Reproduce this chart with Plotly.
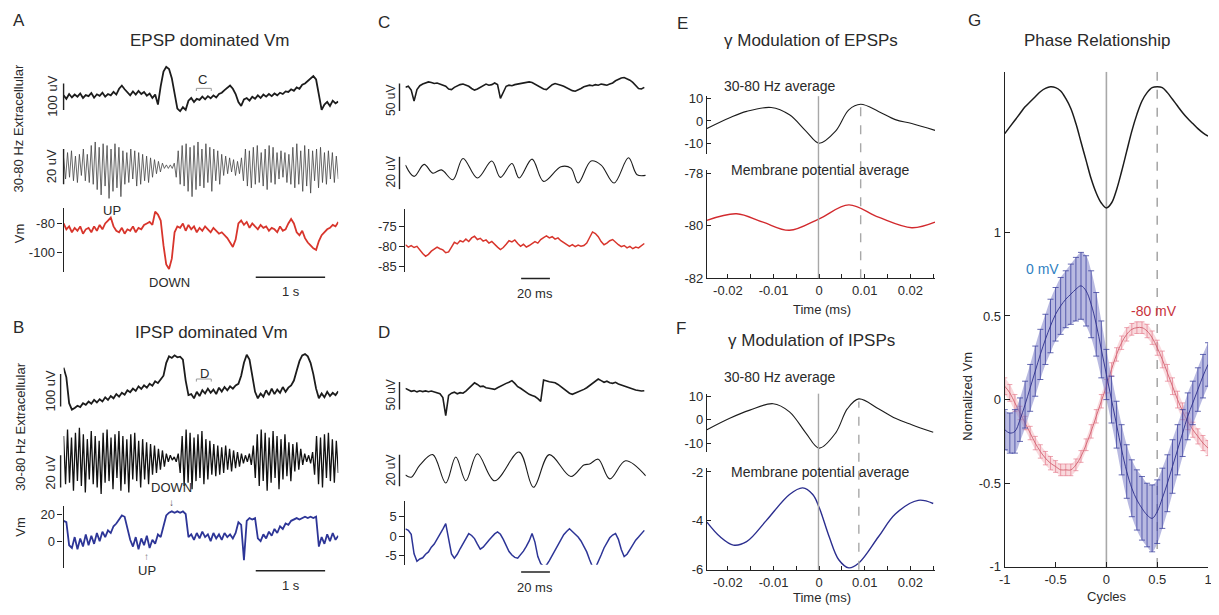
import numpy as np
import plotly.graph_objects as go

# The page body adds an 8 px margin, so the figure is drawn 8 px in from the
# top-left corner: positions below are given in window pixels and converted.
OX, OY = 8, 8
W, H = 1211, 607
FONT = "Liberation Sans, Arial, sans-serif"
TXT = "#2a2a2a"

# ------------------------------------------------------------------ data
# Panel A (EPSP dominated), time 0..3.96 s
a_extra = [5, -8, 10, -3, 8, 0, 12, -5, 6, 2, 14, -4, 9, 3, 15, 0, 10, 5, 18, 8,
           30, 42, 28,
           15, 5, 20, 8, 22, 10, 18, 4, 12, -5, 8,
           -30,
           40, 95, 113, 105, 70, 10,
           -45, -55, -40, -50,
           -15, -5, -20, -8, -12, 0, -10, 2, -6, 5, -3, 10, 15, 25,
           35, 42, 30,
           10, -20, -35,
           -10, -5, -15, 0, -8, 5, -5, 8, 0, 10, 2, 12, 5, 15, 10, 20,
           18, 28, 22, 35, 30, 45, 50, 60,
           70, 78, 65,
           10, -50,
           -30, -20, -35, -15, -25, -18]
a_gamma = [5, -7, 8, -6, 9, -8, 6, -9, 7, -5, 10, -8, 7, -9,
           12, -10, 14, -13, 11, -16, 13, -11, 12, -18, 10, -14, 13, -12, 11, -17, 9, -10,
           8, -9, 10, -7, 9, -11, 8, -10, 7, -8, 6, -9, 5, -6,
           4, -4, 3, -3, 2,
           -1, 1, -1, 1, -1, 2,
           -6, 9, -10, 12, -11, 13, -14, 11, -17, 12, -13, 14, -11, 10, -12, 13, -9, 11, -14, 10, -8, 9, -10, 7,
           -5, 6, -4, 5, -3, 4, -5, 3, -4, 5,
           -8, 10, -11, 9, -12, 11, -10, 12, -9, 8, -11, 10, -13, 12, -9, 11, -10, 8, -7, 9,
           -6, 8, -9, 7, -10, 11, -12, 13, -10, 9, -14, 12, -11, 10, -15, 9, -8, 10, -12, 11,
           -9, 8, -10, 9, -7, 8, -9, 6, -7]
a_vm = [-80, -84, -82, -86, -83, -85, -82, -87, -84, -83, -86, -82, -85, -81, -84,
        -80, -78, -76, -82, -85,
        -86, -83, -87, -84, -85, -82, -86, -83, -84, -81,
        -80, -79, -81,
        -72, -74, -78,
        -95, -108, -111, -104,
        -86, -82,
        -83, -80, -85, -81, -84, -82, -86, -83, -85, -82, -84, -86, -83, -85, -87, -86, -88,
        -90, -93, -96, -91,
        -80, -78,
        -81, -79, -83, -80, -82, -84, -81, -83, -82, -85, -83, -84, -86, -82, -85, -84,
        -80, -77, -80,
        -86, -88, -85,
        -90, -93, -95, -97, -98,
        -92, -88, -86, -84, -83, -81, -82, -79]

# Panel B (IPSP dominated)
b_extra = [70, 40, -40, -60, -55, -48,
           -52, -40, -45, -35, -42, -30, -38, -28, -35, -22, -30, -18, -25, -12, -20,
           -8, -14, 0, -6, 5, -2, 12, 4, 15, 8, 20, 14, 28, 22, 35,
           45, 85, 105, 100, 108, 102, 104, 95, 30, -15,
           -12, -25, -5, -18, 0, -10, 5, -8, 2, -12, 8, -4, 10, 0, 12, 5, 15, 20,
           45, 85, 110, 95, 50, -5, -25,
           -10, -20, 0, -15, 5, -12, 2, -8, 10, -5, 8, 15,
           30, 60, 90, 108, 112, 105, 85, 50, 5, -25,
           -10, -22, -5, -18, -8, -15, -3]
b_gamma = [14, -16, 18, -15, 13, -20, 16, -14, 19, -17, 15, -21, 12, -13, 17, -16, 14, -18, 11, -22,
           16, -15, 18, -14, 13, -19, 15, -12, 17, -20, 14, -16, 12, -21, 15, -13, 16, -14, 11, -18,
           12, -13, 10, -16, 9, -10, 8, -9, 6, -7, 5, -5, 3,
           -2, 2, -1, 1, -2, 3,
           -9, 14, -17, 18, -15, 16, -19, 13, -14, 15, -12, 17, -16, 12, -13, 11,
           -10, 9, -11, 8, -10, 7, -9, 8, -7, 6, -8, 5, -6, 4, -5,
           3, -3, 2, -2, 3, -4,
           8, -12, 15, -17, 18, -14, 16, -20, 13, -15, 17, -12, 14, -19, 12, -13, 15, -11, 10, -14,
           9, -8, 10, -7, 6,
           -4, 3, -2, 2, -3, 4,
           -10, 14, -16, 13, -18, 15, -12, 16, -14, 12, -15, 11, -9]
b_vm = [15, 14, -3,
        -5, 3, -6, 2, -4, 5, -3, 4, -2, 6, 0, 7, 3, 8, 6, 11, 13,
        16, 19, 18, 10, 1,
        -4, 3, -6, 2, -3, 4, -5, 1, -2, 5, 3,
        12, 19, 21, 22, 21, 22, 21, 22, 20, 3,
        5, 1, 6, 2, 7, 3, 5, 0, 6, 2, 5, 1, 6, 3, 5, 2, 6,
        14, 12, -14, 15, 17, 16, 17, 2,
        0, 5, 2, 7, 4, 9, 6, 11, 9, 13, 12,
        15, 16, 17, 16, 17, 18, 17, 18, 17, 18,
        -4,
        3, -2, 5, 0, 6, 1, 4]

# Panels C / D, time 0..166 ms (2 ms steps)
c_extra = [0, 2, -5, -25, -4, 3, 6, 8, 10, 9, 7, 8, 6, 5, 2, -3, -4, 0, 3, 5,
           6, 4, 2, -2, -5, -3, 0, 3, 6, 4, 5, 8, 5, -20, -8, 2, 4, 3, 5, 6,
           7, 8, 9, 10, 9, 6, 3, 0, -3, -4, 0, 5, 7, 6, 4, 2, -1, -4, -6, -7,
           -5, -2, 1, 3, 4, 3, 5, 4, 6, 5, 4, 6, 8, 12, 15, 17, 18, 16, 13, 9,
           4, -2, -3, 0]
c_gamma_t = [0, 6, 13, 19, 25, 33, 40, 50, 60, 66, 74, 79, 88, 96, 108, 115, 120, 129, 136, 145, 155, 161, 167]
c_gamma = [3.4, -3.6, 3.8, -1.6, 0.4, -5.7, 7.5, -4.6, 5.9, -4.2, 4.4, -4.6, 7.1, -6.7, 2.4, 1.5, -7.7, 5.9, 3.4, -7.7, 7.9, -2.6, -3.0]
c_vm = [-79.6, -80.2, -79.8, -80.3, -80.0, -81.0, -81.8, -82.5, -82.0, -81.2, -80.8, -80.2, -80.6, -80.9, -81.6,
        -81.4, -80.2, -79.0, -79.4, -78.6, -78.9, -78.2, -78.8, -77.9, -77.5, -78.3, -78.0, -78.7, -78.4, -79.2,
        -78.8, -79.6, -80.2, -80.8, -80.3, -79.5, -78.6, -78.9, -78.4, -79.3, -80.0, -79.5, -80.2, -79.8, -79.4,
        -78.8, -79.2, -78.3, -77.8, -77.4, -77.9, -77.6, -78.2, -77.9, -78.6, -79.0, -79.4, -80.0, -79.6, -80.1,
        -79.7, -80.0, -79.8, -79.2, -77.8, -76.4, -76.8, -77.6, -78.8, -79.6, -79.2, -78.6, -78.3, -79.0, -79.6,
        -80.1, -79.8, -80.4, -80.0, -80.6, -80.2, -80.4, -79.8, -79.3]
d_extra = [4.8, 2, -0.5, 0.8, -1.5, 0.5, -1.0, 0.2, -1.2, 0, -2, -3, -5, -12, -45, -8, -4, -2, -5, -3,
           -4, 0, 5, 10, 15, 12, 8, 9, 6, 5, 4, 3, 6, 9, 12, 14, 16, 19, 14, 8,
           5, 1, -3, -6, -8, -10, -14, -19, 20, 18, 17, 16, 15, 12, 8, 4, 0, -4, -6, -4,
           -2, 0, 3, 6, 10, 14, 18, 22, 19, 16, 18, 15, 14, 16, 13, 11, 9, 8, 6, 4,
           2, 1, 0, 0.5]
d_gamma_t = [0, 4, 10, 19, 28, 35, 42, 50, 62, 79, 89, 100, 115, 124, 128, 134, 142, 153, 167]
d_gamma = [-3.1, -4.5, 3.1, 9.7, -8.2, 8.2, -6.8, 10.3, -6.8, 11.3, -10.9, 9.7, -4.1, 3.2, 3.8, 6.8, -5.6, 5.8, -3.7]
d_vm = [1.9, 1.5, 0.5, -4.5, -6.4, -5.8, -5.5, -4.6, -4.0, -2.8, -2.0, -0.8, 0.6, 1.8, 3.2, -1.0, -4.5, -5.6, -4.6, -3.2,
        -2.0, -0.5, 0.7, 0.2, -0.6, -2.0, -3.3, -2.8, -1.8, -1.0, -0.2, 0.6, 1.1, 0.5, -0.8, -2.5, -3.9, -4.8, -5.4, -5.6,
        -4.8, -3.8, -2.6, -1.2, 0.7, -1.5, -5.2, -7.0, -7.7, -7.4, -6.2, -4.8, -3.5, -2.0, -0.8, 0.4, 1.2, 1.9, 1.2, 0.5,
        -0.2, -1.2, -2.7, -4.0, -6.0, -7.8, -8.1, -6.6, -4.8, -3.0, -1.5, -0.4, 0.3, 0.7, -0.8, -3.4, -5.2, -4.6, -3.4, -2.2,
        -1.0, -0.2, 0.6, 1.5]

# Panels E / F (time in the plotted units)
e_gamma_t = [-0.0246, -0.0196, -0.0159, -0.0105, -0.0065, -0.0029, 0.0, 0.0036, 0.0065, 0.0091, 0.013, 0.0167, 0.0203, 0.0254]
e_gamma = [-3.3, 1.4, 4.2, 5.9, 2.7, -4.4, -9.7, -4.4, 4.9, 7.3, 4.2, 0.6, -1.1, -4.1]
e_vm_t = [-0.0246, -0.0181, -0.0123, -0.0065, 0.0, 0.0065, 0.013, 0.0203, 0.0254]
e_vm = [-79.79, -79.54, -79.86, -80.17, -79.73, -79.2, -79.67, -80.07, -79.86]
f_gamma_t = [-0.0246, -0.0196, -0.0152, -0.0101, -0.0065, -0.0029, 0.0, 0.0036, 0.0062, 0.0087, 0.013, 0.0167, 0.0203, 0.025]
f_gamma = [-4.1, 0.7, 4.1, 6.8, 3.4, -5.5, -11.8, -5.5, 4.7, 8.8, 4.7, 0.7, -2.0, -5.2]
f_vm_t = [-0.0246, -0.0217, -0.0188, -0.0159, -0.0116, -0.0065, -0.0036, -0.0014, 0.0, 0.0022, 0.0043, 0.0065, 0.0087, 0.013, 0.0167, 0.0217, 0.025]
f_vm = [-4.05, -4.65, -4.99, -4.85, -3.99, -2.92, -2.65, -2.92, -3.45, -4.65, -5.59, -5.92, -5.72, -4.65, -3.72, -3.16, -3.29]
ef_ticks = [-0.02, -0.01, 0, 0.01, 0.02]
ef_ticktext = ["-0.02", "-0.01", "0", "0.01", "0.02"]

# Panel G (phase relationship)
g_cycles = [-1.0, -0.95, -0.9, -0.85, -0.8, -0.75, -0.7, -0.65, -0.6, -0.55, -0.5, -0.45, -0.4, -0.35, -0.3,
            -0.25, -0.2, -0.15, -0.1, -0.05, 0.0, 0.05, 0.1, 0.15, 0.2, 0.25, 0.3, 0.35, 0.4, 0.45, 0.5,
            0.55, 0.6, 0.65, 0.7, 0.75, 0.8, 0.85, 0.9, 0.95, 1.0]
g_gamma = [1.59, 1.63, 1.67, 1.71, 1.75, 1.78, 1.81, 1.84, 1.86, 1.87, 1.865, 1.845, 1.80, 1.74, 1.65,
           1.54, 1.43, 1.32, 1.235, 1.175, 1.146, 1.175, 1.255, 1.365, 1.485, 1.605, 1.705, 1.785, 1.835, 1.865, 1.87,
           1.865, 1.835, 1.795, 1.755, 1.715, 1.68, 1.65, 1.62, 1.595, 1.575]
g_0mv = [-0.18, -0.2, -0.19, -0.12, -0.03, 0.07, 0.17, 0.27, 0.36, 0.44, 0.51, 0.56, 0.6, 0.63, 0.66,
         0.68, 0.65, 0.57, 0.45, 0.3, 0.15, 0.0, -0.15, -0.3, -0.43, -0.53, -0.6, -0.65, -0.69, -0.71, -0.67,
         -0.59, -0.5, -0.4, -0.3, -0.2, -0.1, -0.02, 0.06, 0.14, 0.21]
g_0mv_err = [0.12, 0.12, 0.13, 0.13, 0.14, 0.14, 0.15, 0.15, 0.15, 0.16, 0.16, 0.17, 0.17, 0.18, 0.19,
             0.2, 0.21, 0.2, 0.19, 0.17, 0.15, 0.14, 0.14, 0.15, 0.16, 0.17, 0.18, 0.19, 0.19, 0.2, 0.19,
             0.18, 0.17, 0.16, 0.15, 0.14, 0.14, 0.13, 0.13, 0.13, 0.13]
g_80mv = [0.08, 0.04, -0.02, -0.08, -0.14, -0.2, -0.26, -0.31, -0.35, -0.38, -0.4, -0.42, -0.42, -0.42, -0.39,
          -0.34, -0.27, -0.19, -0.1, -0.01, 0.08, 0.18, 0.27, 0.34, 0.39, 0.42, 0.43, 0.43, 0.41, 0.37, 0.31,
          0.24, 0.16, 0.08, 0.0, -0.07, -0.13, -0.18, -0.22, -0.26, -0.29]
g_80mv_err = [0.05, 0.05, 0.05, 0.04, 0.04, 0.04, 0.04, 0.04, 0.04, 0.04, 0.035, 0.035, 0.035, 0.035, 0.035,
              0.035, 0.035, 0.04, 0.04, 0.04, 0.04, 0.04, 0.04, 0.04, 0.04, 0.035, 0.035, 0.035, 0.04, 0.04, 0.045,
              0.05, 0.05, 0.05, 0.05, 0.05, 0.05, 0.045, 0.045, 0.045, 0.045]
g_ticks = [-1, -0.5, 0, 0.5, 1]
g_ticktext = ["-1", "-0.5", "0", "0.5", "1"]


# ------------------------------------------------------------------ helpers
def fx(px):
    return (px - OX) / W


def fy(py):
    return 1 - (py - OY) / H


def xa(n):
    return "xaxis" if n == 1 else f"xaxis{n}"


def ya(n):
    return "yaxis" if n == 1 else f"yaxis{n}"


def xr(n):
    return "x" if n == 1 else f"x{n}"


def yr(n):
    return "y" if n == 1 else f"y{n}"


fig = go.Figure()
layout = {}


def panel(n, xpx, ypx, xrange, yrange):
    layout[xa(n)] = dict(domain=[fx(xpx[0]), fx(xpx[1])], range=xrange, visible=False,
                         anchor=yr(n), showgrid=False, zeroline=False, fixedrange=True)
    layout[ya(n)] = dict(domain=[fy(ypx[1]), fy(ypx[0])], range=yrange, visible=False,
                         anchor=xr(n), showgrid=False, zeroline=False, fixedrange=True)


def show_axis(key, tickvals, ticktext, ticks="outside", **kw):
    layout[key].update(dict(visible=True, showline=True, linecolor="#222", linewidth=1.2,
                            ticks=ticks, ticklen=5, tickwidth=1.2, tickcolor="#222",
                            tickmode="array", tickvals=tickvals, ticktext=ticktext,
                            tickfont=dict(size=13, color=TXT, family=FONT), showgrid=False,
                            zeroline=False, ticklabeloverflow="allow"))
    layout[key].update(kw)


def line(n, x, y, color, width=1.3, shape="linear"):
    fig.add_trace(go.Scatter(x=x, y=y, mode="lines", line=dict(color=color, width=width, shape=shape),
                             xaxis=xr(n), yaxis=yr(n), hoverinfo="skip", showlegend=False))


BLACK = "#1c1c1c"
RED = "#d8352c"
BLUE = "#2d3597"

# ---- panel A
AX = [58, 335]
panel(1, AX, [55, 115], [0, 3.96], [-79.6, 142.6])
panel(2, AX, [138, 200], [0, 3.96], [-19.4, 15])
panel(3, AX, [207, 273], [0, 3.96], [-113.3, -69.3])
line(1, np.linspace(0, 3.96, len(a_extra)), a_extra, BLACK, 1.8)
line(2, np.linspace(0, 3.96, len(a_gamma)), a_gamma, "#444444", 0.8)
line(3, np.linspace(0, 3.96, len(a_vm)), a_vm, RED, 1.8)
show_axis(ya(3), [-80, -100], ["-80", "-100"])

# ---- panel B
panel(4, AX, [350, 420], [0, 3.96], [-80.3, 131.8])
panel(5, AX, [427, 502], [0, 3.96], [-23.5, 22])
panel(6, AX, [511.7, 575], [0, 3.96], [-19.7, 26])
line(4, np.linspace(0, 3.96, len(b_extra)), b_extra, BLACK, 1.8)
line(5, np.linspace(0, 3.96, len(b_gamma)), b_gamma, "#111111", 1.3)
line(6, np.linspace(0, 3.96, len(b_vm)), b_vm, BLUE, 1.8)
show_axis(ya(6), [20, 0], ["20", "0"])

# ---- panels C / D
CX = [402.7, 645]
c_t = np.arange(0, 168, 2)
panel(7, CX, [65, 110], [0, 167], [-46.4, 33.9])
panel(8, CX, [150, 190], [0, 167], [-12.7, 11.5])
panel(9, CX, [208, 273], [0, 167], [-86.5, -70.6])
line(7, c_t, c_extra, BLACK, 1.6)
line(8, c_gamma_t, c_gamma, BLACK, 1.1, "spline")
line(9, c_t, c_vm, RED, 1.5)
show_axis(ya(9), [-75, -80, -85], ["-75", "-80", "-85"])

panel(10, CX, [375, 425], [0, 167], [-54.8, 34.5])
panel(11, CX, [452, 500], [0, 167], [-15.4, 14.2])
panel(12, CX, [506.7, 571.7], [0, 167], [-7.25, 9])
line(10, c_t, d_extra, BLACK, 1.6)
line(11, d_gamma_t, d_gamma, BLACK, 1.1, "spline")
line(12, c_t, d_vm, BLUE, 1.5)
show_axis(ya(12), [5, 0, -5], ["5", "0", "-5"])

# ---- panels E / F
EX = [706.7, 936.7]
ERANGE = [-0.0246, 0.0254]
minor = dict(tickmode="array", tickvals=[-0.015, -0.005, 0.005, 0.015, 0.025], ticks="inside",
             ticklen=4, tickcolor="#222", showgrid=False)
panel(13, EX, [93, 152], ERANGE, [-14.4, 10.86])
panel(14, EX, [168, 279], ERANGE, [-82, -77.85])
line(13, e_gamma_t, e_gamma, BLACK, 1.1, "spline")
line(14, e_vm_t, e_vm, "#d22a2e", 1.4, "spline")
show_axis(ya(13), [10, 0, -10], ["10", "0", "-10"], ticks="inside", ticklen=4)
show_axis(ya(14), [-78, -80, -82], ["-78", "-80", "-82"], ticks="inside", ticklen=4)
show_axis(xa(14), ef_ticks, ef_ticktext, ticks="inside", ticklen=4, minor=minor)

panel(15, EX, [397, 457], ERANGE, [-13.6, 11])
panel(16, EX, [473, 577], ERANGE, [-6, -1.84])
line(15, f_gamma_t, f_gamma, BLACK, 1.1, "spline")
line(16, f_vm_t, f_vm, "#2c2f8f", 1.4, "spline")
show_axis(ya(15), [10, 0, -10], ["10", "0", "-10"], ticks="inside", ticklen=4)
show_axis(ya(16), [-2, -4, -6], ["-2", "-4", "-6"], ticks="inside", ticklen=4)
show_axis(xa(16), ef_ticks, ef_ticktext, ticks="inside", ticklen=4, minor=minor)

# ---- panel G
panel(17, [1007, 1212], [68, 574], [-1, 1], [-1, 1.96])
show_axis(xa(17), g_ticks, g_ticktext, ticks="inside", ticklen=5)
show_axis(ya(17), g_ticks, g_ticktext, ticks="inside", ticklen=5)


def band(mean, err, fillc, barc, meanc, capw):
    lo = [m - e for m, e in zip(mean, err)]
    hi = [m + e for m, e in zip(mean, err)]
    fig.add_trace(go.Scatter(x=g_cycles, y=lo, mode="lines", line=dict(width=0, shape="spline"),
                             xaxis="x17", yaxis="y17", hoverinfo="skip", showlegend=False))
    fig.add_trace(go.Scatter(x=g_cycles, y=hi, mode="lines", line=dict(width=0, shape="spline"),
                             fill="tonexty", fillcolor=fillc,
                             xaxis="x17", yaxis="y17", hoverinfo="skip", showlegend=False))
    fig.add_trace(go.Scatter(x=g_cycles, y=mean, mode="lines", line=dict(color=meanc, width=0.9, shape="spline"),
                             error_y=dict(type="data", array=err, visible=True, color=barc,
                                          thickness=0.8, width=capw),
                             xaxis="x17", yaxis="y17", hoverinfo="skip", showlegend=False))


band(g_80mv, g_80mv_err, "rgba(240,160,170,0.40)", "rgba(228,120,138,0.85)", "#d0606e", 2.5)
band(g_0mv, g_0mv_err, "rgba(128,130,200,0.55)", "rgba(55,60,155,0.95)", "#2c2f8a", 3)
line(17, g_cycles, g_gamma, BLACK, 1.5, "spline")

# ------------------------------------------------------------------ shapes
shapes = []
GRAY = "#a8a8a8"


def vbar(n, xpx, y0, y1):
    shapes.append(dict(type="line", xref="paper", yref=yr(n), x0=fx(xpx), x1=fx(xpx), y0=y0, y1=y1,
                       line=dict(color="#222", width=1.4)))


def hbar(n, x0, x1, py):
    shapes.append(dict(type="line", xref=xr(n), yref="paper", x0=x0, x1=x1, y0=fy(py), y1=fy(py),
                       line=dict(color="#222", width=1.4)))


# vertical scale bars
vbar(1, 58, -50, 50)
vbar(2, 58, -10, 10)
vbar(4, 55, -50, 50)
vbar(5, 55, -18, 2)
vbar(7, 396.7, -42.9, 7.1)
vbar(8, 396.7, -11.5, 8.5)
vbar(10, 396.7, -33.9, 16.6)
vbar(11, 396.7, -10.3, 9.7)
# time scale bars
hbar(3, 2.77, 3.77, 278)
hbar(6, 2.77, 3.77, 578)
hbar(9, 80.4, 100.4, 279.3)
hbar(12, 80.4, 100.4, 579.3)

# C / D brackets
for n, yv, ytick in [(1, 31.5, 10), (4, 34.8, 8)]:
    shapes.append(dict(type="path", xref=xr(n), yref=yr(n),
                       path=f"M 1.914,{yv - ytick} L 1.914,{yv} L 2.129,{yv} L 2.129,{yv - ytick}",
                       line=dict(color="#9a9a9a", width=1)))

# reference lines E / F / G
for n, top_s, top_d, xd in [(14, 93, 100, 0.0091), (16, 397, 405, 0.0087)]:
    bot = 279 if n == 14 else 577
    shapes.append(dict(type="line", xref=xr(n), yref="paper", x0=-0.00015, x1=-0.00015,
                       y0=fy(bot), y1=fy(top_s), line=dict(color=GRAY, width=1.4)))
    shapes.append(dict(type="line", xref=xr(n), yref="paper", x0=xd, x1=xd,
                       y0=fy(bot), y1=fy(top_d), line=dict(color=GRAY, width=1.4, dash="dash")))
shapes.append(dict(type="line", xref="x17", yref="y17", x0=0, x1=0, y0=-1, y1=1.96, layer="below",
                   line=dict(color=GRAY, width=1.6)))
shapes.append(dict(type="line", xref="x17", yref="y17", x0=0.5, x1=0.5, y0=-1, y1=1.96, layer="below",
                   line=dict(color=GRAY, width=1.6, dash="dash")))

# ------------------------------------------------------------------ text
ann = []


def text(s, px, py, size=13, color=TXT, angle=0, xanchor="center"):
    ann.append(dict(text=s, x=fx(px), y=fy(py), xref="paper", yref="paper", showarrow=False,
                    xanchor=xanchor, yanchor="middle", textangle=angle,
                    font=dict(size=size, color=color, family=FONT)))


for s, px, py in [("A", 13, 16), ("B", 13, 329), ("C", 381, 18), ("D", 381, 335),
                  ("E", 682, 19), ("F", 681, 330), ("G", 976, 16)]:
    text(s, px, py, 17)

text("EPSP dominated Vm", 205, 36, 17)
text("IPSP dominated Vm", 207, 335, 17)
text("γ Modulation of EPSPs", 812, 36, 17)
text("γ Modulation of IPSPs", 812, 343, 17)
text("Phase Relationship", 1100, 36, 17)

text("30-80 Hz Extracellular", 13, 125, 13, angle=-90)
text("Vm", 13, 233, 13, angle=-90)
text("100 uV", 46, 93, 13, angle=-90)
text("20 uV", 46, 165, 13, angle=-90)
text("C", 198, 76, 13)
text("UP", 107, 210, 13)
text("DOWN", 165, 283, 13)
text("1 s", 287, 293, 13)

text("30-80 Hz Extracellular", 15, 430, 13, angle=-90)
text("Vm", 15, 533, 13, angle=-90)
text("100 uV", 45, 394, 13, angle=-90)
text("20 uV", 45, 478, 13, angle=-90)
text("D", 200, 376, 13)
text("DOWN", 167, 493, 13)
text("↓", 167, 508, 10, color="#555")
text("↑", 142, 563, 10, color="#777")
text("UP", 142, 578, 13)
text("1 s", 287, 593, 13)

text("50 uV", 388, 97, 12, angle=-90)
text("20 uV", 388, 170, 12, angle=-90)
text("20 ms", 533, 295, 13)
text("50 uV", 388, 398, 12, angle=-90)
text("20 uV", 388, 475, 12, angle=-90)
text("20 ms", 533, 595, 13)

text("30-80 Hz average", 780, 83, 14)
text("Membrane potential average", 821, 168, 14)
text("Time (ms)", 823, 311, 13)
text("30-80 Hz average", 780, 380, 14)
text("Membrane potential average", 821, 477, 14)
text("Time (ms)", 823, 605, 13)

text("0 mV", 1045, 270, 14, color="#2f7fc1")
text("-80 mV", 1157, 313, 14, color="#c8323c")
text("Normalized Vm", 970, 400, 13, angle=-90)
text("Cycles", 1110, 604, 13)

fig.update_layout(**layout)
fig.update_layout(width=W, height=H, autosize=False, margin=dict(l=0, r=0, t=0, b=0),
                  paper_bgcolor="white", plot_bgcolor="white", showlegend=False,
                  font=dict(family=FONT, color=TXT, size=13),
                  shapes=shapes, annotations=ann)

fig.write_html("out.html")
